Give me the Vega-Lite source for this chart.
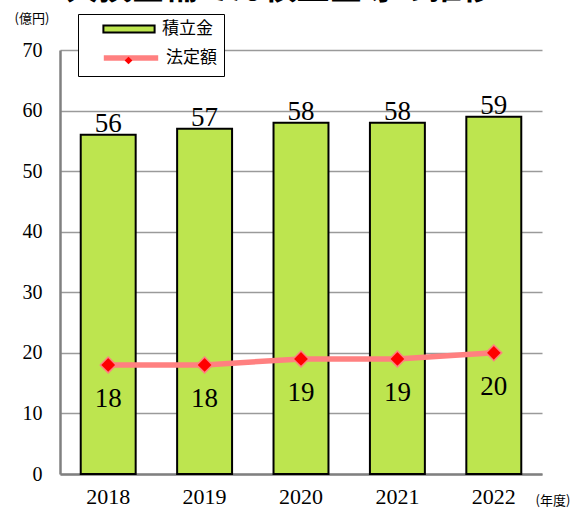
{
  "$schema": "https://vega.github.io/schema/vega-lite/v6.json",
  "width": 482,
  "height": 424,
  "autosize": "none",
  "padding": {"left": 60, "top": 50, "right": 41, "bottom": 34},
  "background": "white",
  "config": {"view": {"stroke": null}},
  "title": {
    "text": "欠損金補てん積立金等の推移",
    "font": "Noto Sans CJK JP",
    "fontSize": 33,
    "fontWeight": "bold",
    "color": "black",
    "anchor": "middle",
    "frame": "group",
    "dx": -21,
    "offset": 6
  },
  "data": {
    "values": [
      {"year": "2018", "fund": 56, "legal": 18},
      {"year": "2019", "fund": 57, "legal": 18},
      {"year": "2020", "fund": 58, "legal": 19},
      {"year": "2021", "fund": 58, "legal": 19},
      {"year": "2022", "fund": 59, "legal": 20}
    ]
  },
  "encoding": {
    "x": {
      "field": "year",
      "type": "ordinal",
      "scale": {"paddingInner": 0.43, "paddingOuter": 0.215},
      "axis": {
        "labelAngle": 0,
        "labelFont": "Times New Roman, Liberation Serif, DejaVu Serif, Noto Serif, FreeSerif, serif",
        "labelFontSize": 22,
        "labelColor": "black",
        "labelPadding": 12,
        "ticks": false,
        "domainColor": "#808080",
        "domainWidth": 2.5,
        "title": "(年度)",
        "titleFont": "Noto Sans CJK JP",
        "titleFontSize": 13,
        "titleFontWeight": "normal",
        "titleColor": "black",
        "titleAlign": "left",
        "titleBaseline": "middle",
        "titleX": 475,
        "titleY": 26
      }
    }
  },
  "layer": [
    {
      "mark": {"type": "bar", "stroke": "black", "strokeWidth": 2},
      "encoding": {
        "y": {
          "field": "fund",
          "type": "quantitative",
          "scale": {"domain": [0, 70], "nice": false},
          "axis": {
            "values": [0, 5, 10, 15, 20, 25, 30, 35, 40, 45, 50, 55, 60, 65, 70],
            "labelExpr": "datum.value % 10 === 0 ? datum.label : ''",
            "labelFont": "Times New Roman, Liberation Serif, DejaVu Serif, Noto Serif, FreeSerif, serif",
            "labelFontSize": 20,
            "labelColor": "black",
            "labelPadding": 18,
            "ticks": false,
            "domainColor": "#808080",
            "domainWidth": 2.5,
            "grid": true,
            "gridColor": {"condition": {"test": "datum.value % 10 === 0", "value": "#9a9a9a"}, "value": "#c4c4c4"},
            "gridWidth": 1.5,
            "title": "(億円)",
            "titleFont": "Noto Sans CJK JP",
            "titleFontSize": 13,
            "titleFontWeight": "normal",
            "titleColor": "black",
            "titleAngle": 0,
            "titleAlign": "left",
            "titleBaseline": "middle",
            "titleX": -46,
            "titleY": -32
          }
        },
        "fill": {
          "datum": "積立金",
          "scale": {"domain": ["積立金"], "range": ["#bde54f"]},
          "legend": {
            "orient": "none",
            "legendX": 18,
            "legendY": -37,
            "title": null,
            "zindex": 2,
            "padding": 7,
            "symbolSize": 256,
            "symbolOffset": 35,
            "labelOffset": 24,
            "symbolType": "M-3.2,-0.45H3.2V0.45H-3.2Z",
            "symbolStrokeColor": "black",
            "symbolStrokeWidth": 2,
            "symbolOpacity": 1,
            "labelFont": "Noto Sans CJK JP",
            "labelFontSize": 17,
            "labelColor": "black"
          }
        }
      }
    },
    {
      "mark": {"type": "text", "font": "Times New Roman, Liberation Serif, DejaVu Serif, Noto Serif, FreeSerif, serif", "fontSize": 27, "baseline": "alphabetic", "dy": -3, "color": "black"},
      "encoding": {
        "y": {"field": "fund", "type": "quantitative"},
        "text": {"field": "fund", "type": "quantitative"}
      }
    },
    {
      "mark": {"type": "line", "strokeWidth": 5.5, "strokeCap": "round"},
      "encoding": {
        "y": {"field": "legal", "type": "quantitative"},
        "stroke": {
          "datum": "法定額",
          "scale": {"domain": ["法定額"], "range": ["#ff8080"]},
          "legend": {
            "orient": "none",
            "legendX": 18,
            "legendY": -36,
            "title": ".",
            "titleColor": "white",
            "titleFontSize": 17,
            "titlePadding": 9,
            "fillColor": "white",
            "strokeColor": "black",
            "zindex": 1,
            "padding": 7,
            "symbolSize": 256,
            "symbolOffset": 35,
            "labelOffset": 24,
            "symbolType": "M-3.4,0H3.4",
            "symbolStrokeWidth": 5.5,
            "symbolOpacity": 1,
            "labelFont": "Noto Sans CJK JP",
            "labelFontSize": 17,
            "labelColor": "black"
          }
        }
      }
    },
    {
      "mark": {"type": "point", "filled": true, "fill": "#ff0000", "stroke": "#ff8080", "strokeWidth": 1.5, "size": 250, "opacity": 1},
      "encoding": {
        "y": {"field": "legal", "type": "quantitative"},
        "shape": {
          "datum": "◆",
          "scale": {"range": ["diamond"]},
          "legend": {
            "orient": "none",
            "legendX": 64,
            "legendY": 6,
            "title": null,
            "padding": 0,
            "zindex": 3,
            "labelExpr": "''",
            "labelFontSize": 1,
            "symbolSize": 60,
            "symbolFillColor": "#ff0000",
            "symbolStrokeColor": "#ff8080",
            "symbolStrokeWidth": 1,
            "encode": {
              "symbols": {
                "fill": {"value": "#ff0000"},
                "stroke": {"value": "#ff8080"},
                "opacity": {"value": 1}
              }
            }
          }
        }
      }
    },
    {
      "mark": {"type": "text", "font": "Times New Roman, Liberation Serif, DejaVu Serif, Noto Serif, FreeSerif, serif", "fontSize": 27, "baseline": "middle", "dy": 34, "color": "black"},
      "encoding": {
        "y": {"field": "legal", "type": "quantitative"},
        "text": {"field": "legal", "type": "quantitative"}
      }
    }
  ]
}
